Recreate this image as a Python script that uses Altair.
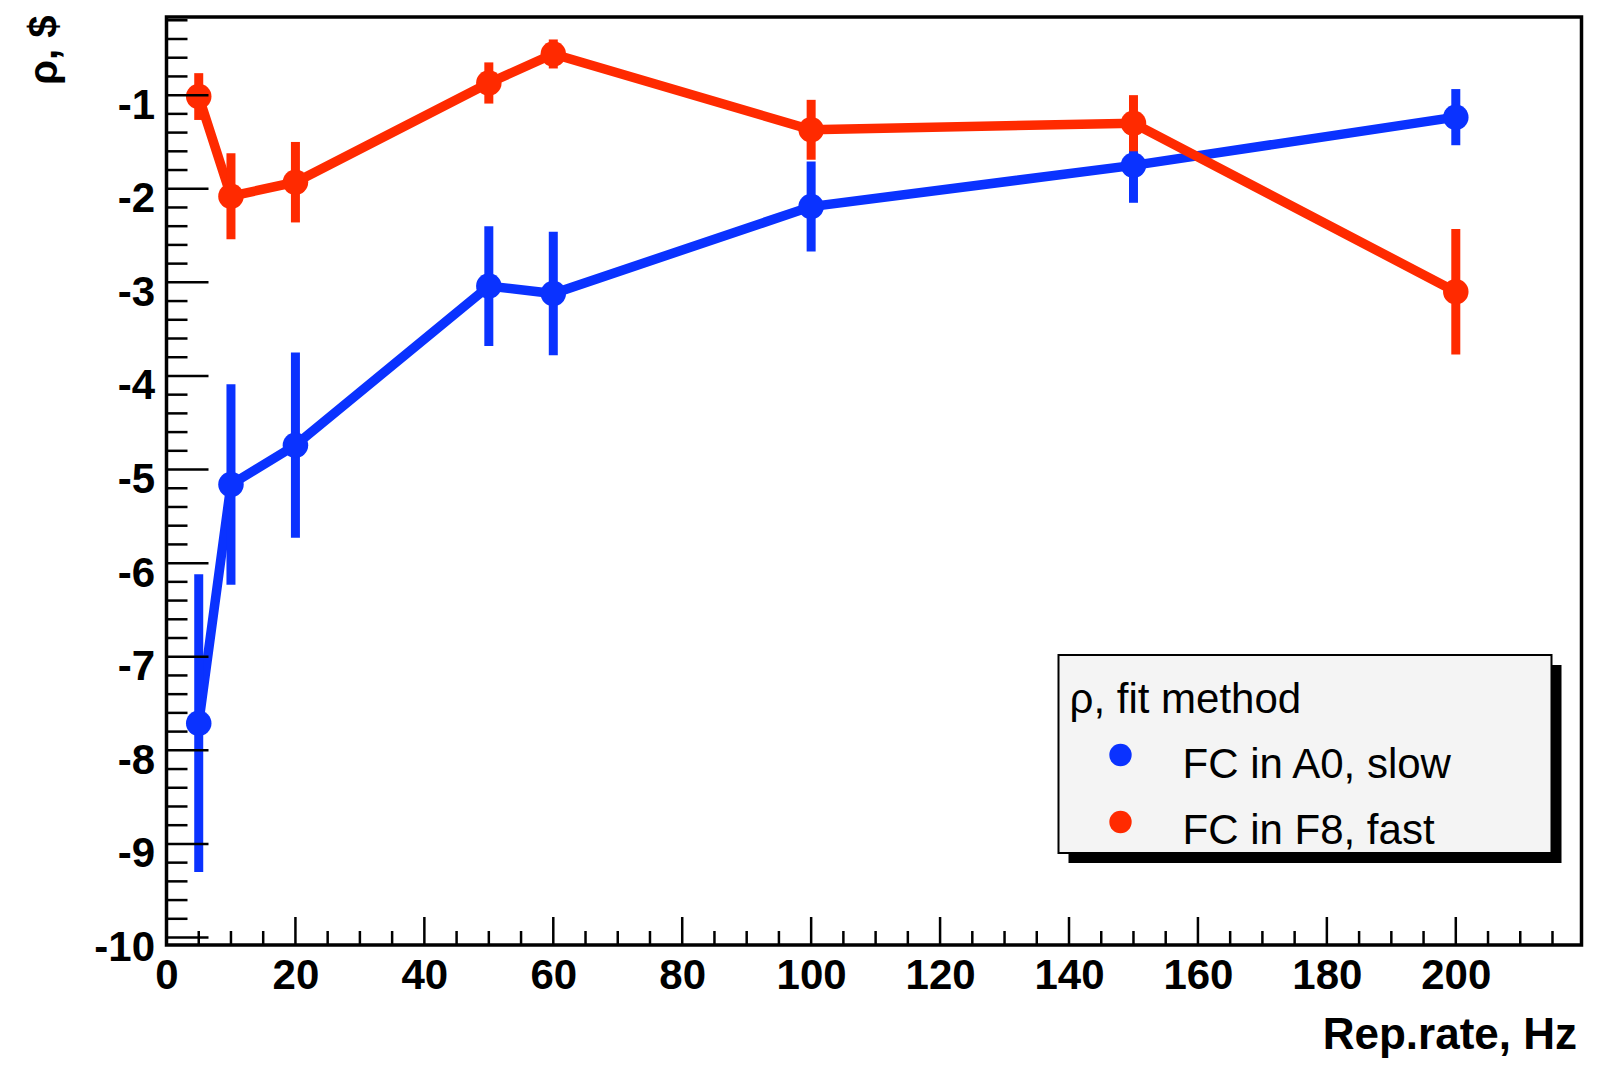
import altair as alt
import pandas as pd
import numpy as np

# ---- data ----
rate = [5, 10, 20, 50, 60, 100, 150, 200]
slow = [-7.71, -5.16, -4.74, -3.04, -3.12, -2.19, -1.75, -1.235]
slow_err = [1.59, 1.07, 0.99, 0.64, 0.66, 0.48, 0.40, 0.30]
fast = [-1.015, -2.08, -1.93, -0.87, -0.56, -1.37, -1.30, -3.10]
fast_err = [0.25, 0.46, 0.43, 0.22, 0.155, 0.32, 0.30, 0.67]
series_names = ["FC in A0, slow", "FC in F8, fast"]
series_colors = ["#0a32ff", "#ff2a00"]
legend_title = "ρ, fit method"
x_title = "Rep.rate, Hz"
y_title = "ρ, $"
x_labels = list(range(0, 201, 20))
y_labels = list(range(-10, 0, 1))

W, H = 1415, 928
XDOM = [0, 219.5]
YDOM = [-10.08, -0.165]
FONT = "Liberation Sans"

def make_df(vals, errs, name):
    d = pd.DataFrame({"rate": rate, "value": vals, "err": errs})
    d["lo"] = d["value"] - d["err"]
    d["hi"] = d["value"] + d["err"]
    d["series"] = name
    return d

df_slow = make_df(slow, slow_err, series_names[0])
df_fast = make_df(fast, fast_err, series_names[1])

xs = alt.Scale(domain=XDOM, nice=False, zero=False)
ys = alt.Scale(domain=YDOM, nice=False, zero=False)

xaxis = alt.Axis(values=x_labels, ticks=False, domain=False, grid=False,
                 labelFont=FONT, labelFontSize=42, labelFontWeight="bold",
                 labelColor="black", labelPadding=43, labelBaseline="alphabetic",
                 labelFlush=False, labelOverlap=False,
                 title=x_title, titleFont=FONT, titleFontSize=44, titleFontWeight="bold",
                 titleColor="black", titleX=1410, titleY=103, titleAlign="right",
                 titleBaseline="alphabetic")
yaxis = alt.Axis(values=y_labels, ticks=False, domain=False, grid=False,
                 labelExpr="datum.value < 0 ? '-' + abs(datum.value) : '' + datum.value",
                 labelFont=FONT, labelFontSize=42, labelFontWeight="bold",
                 labelColor="black", labelPadding=12, labelOffset=10,
                 labelFlush=False, labelOverlap=False,
                 title=y_title, titleFont=FONT, titleFontSize=40, titleFontWeight="bold",
                 titleColor="black", titleAngle=270, titleX=-110, titleY=-2,
                 titleAlign="right", titleBaseline="alphabetic")

def series_layers(d, color):
    base = alt.Chart(d)
    line = base.mark_line(color=color, strokeWidth=9.5).encode(
        x=alt.X("rate:Q", scale=xs, axis=xaxis),
        y=alt.Y("value:Q", scale=ys, axis=yaxis))
    err = base.mark_rule(color=color, strokeWidth=9).encode(
        x=alt.X("rate:Q", scale=xs), y=alt.Y("lo:Q", scale=ys), y2="hi:Q")
    pts = base.mark_circle(color=color, size=650, opacity=1).encode(
        x=alt.X("rate:Q", scale=xs), y=alt.Y("value:Q", scale=ys))
    return [line, err, pts]

# inside ticks (ROOT style)
ymaj = pd.DataFrame({"v": np.arange(-10, 0, 1.0)})
ymin_vals = [round(v, 1) for v in np.arange(-10, -0.1, 0.2) if abs(v - round(v)) > 1e-6]
ymin = pd.DataFrame({"v": ymin_vals})
xmaj = pd.DataFrame({"v": np.arange(0, 201, 20)})
xmin = pd.DataFrame({"v": [v for v in range(5, 220, 5) if v % 20 != 0]})

tick_style = dict(color="black", strokeWidth=2.5)
t1 = alt.Chart(ymaj).mark_rule(**tick_style).encode(
    y=alt.Y("v:Q", scale=ys), x=alt.value(0), x2=alt.value(42))
t2 = alt.Chart(ymin).mark_rule(**tick_style).encode(
    y=alt.Y("v:Q", scale=ys), x=alt.value(0), x2=alt.value(21))
t3 = alt.Chart(xmaj).mark_rule(**tick_style).encode(
    x=alt.X("v:Q", scale=xs), y=alt.value(H), y2=alt.value(H - 28))
t4 = alt.Chart(xmin).mark_rule(**tick_style).encode(
    x=alt.X("v:Q", scale=xs), y=alt.value(H), y2=alt.value(H - 14))

# legend box with shadow
one = pd.DataFrame({"k": [0]})
shadow = alt.Chart(one).mark_rect(color="black").encode(
    x=alt.value(902), x2=alt.value(1395), y=alt.value(648), y2=alt.value(846))
box = alt.Chart(one).mark_rect(fill="#f4f4f4", stroke="black", strokeWidth=2).encode(
    x=alt.value(892), x2=alt.value(1385), y=alt.value(638), y2=alt.value(836))
ltitle = alt.Chart(pd.DataFrame({"t": [legend_title]})).mark_text(
    font=FONT, fontSize=42, align="left", baseline="alphabetic", color="black").encode(
    text="t:N", x=alt.value(903), y=alt.value(696))

leg_layers = [shadow, box, ltitle]
for i, (name, col) in enumerate(zip(series_names, series_colors)):
    ld = pd.DataFrame({"label": [name]})
    sym = alt.Chart(ld).mark_circle(color=col, size=500, opacity=1).encode(
        x=alt.value(954), y=alt.value(738 + 67 * i))
    lab = alt.Chart(ld).mark_text(font=FONT, fontSize=42, align="left",
                                  baseline="alphabetic", color="black").encode(
        text="label:N", x=alt.value(1016), y=alt.value(761 + 66 * i))
    leg_layers += [sym, lab]

layers = series_layers(df_slow, series_colors[0]) + series_layers(df_fast, series_colors[1])
chart = alt.layer(*layers, t1, t2, t3, t4, *leg_layers).properties(
    width=W, height=H,
    autosize=alt.AutoSizeParams(type="none"),
    padding={"left": 158.5, "top": 9, "right": 9, "bottom": 113},
    background="white",
).configure_view(stroke="black", strokeWidth=3.5)

chart.save("out.html", embed_options={"renderer": "svg", "actions": False})
